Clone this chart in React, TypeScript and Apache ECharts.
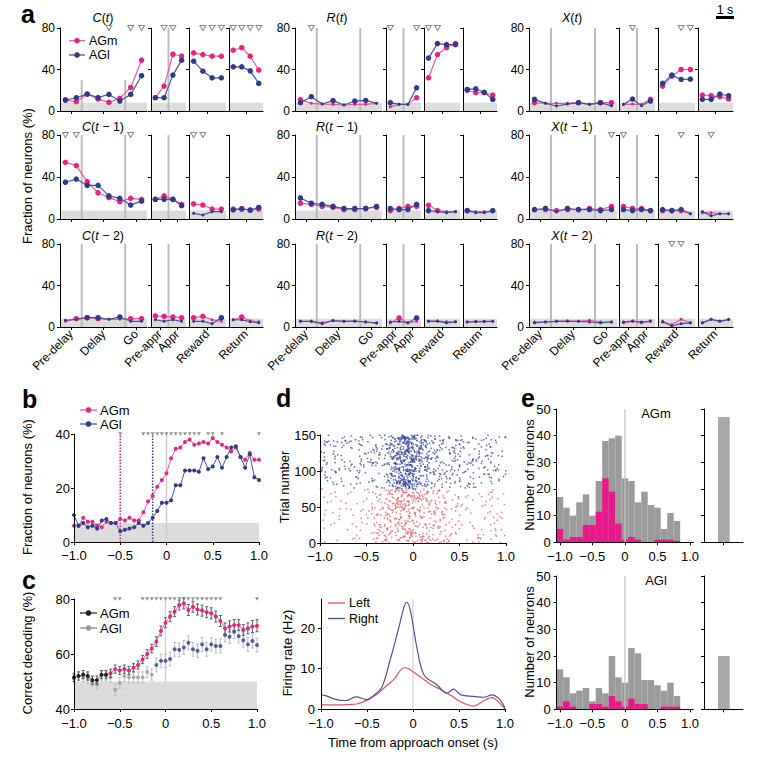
import React, { useEffect, useRef } from "react";
import * as echarts from "echarts";

const FONT = "'Liberation Sans', Arial, Helvetica, sans-serif";
const PINK = "#E6247F";
const PINK_LINE = "#EA5B9C";
const NAVY = "#2E3A8A";
const NAVY_LINE = "#4A5599";
const BAND = "#DCDCDC";
const DIVIDER = "#BDBDBD";

// ---------------- Panel a ----------------
const aSectionSizes = [8, 4, 4, 4];
const aSectionLabels = [["Pre-delay", "Delay", "Go"], ["Pre-appr", "Appr"], ["Reward"], ["Return"]];
const aSectionLabelPos = [[0.5, 3.5, 6.5], [0.5, 2.5], [1.5], [1.5]];
const aSectionDividers = [[1.5, 5.5], [1.5], [], []];
const aVariables = ["C", "R", "X"];
const aLags = ["", " \u2212 1", " \u2212 2"];
const aChance = 8;

const C0_AGm = [[10.6, 9, 16.3, 11.5, 8.3, 12.2, 22.7, 49], [12.8, 24, 54.7, 53], [56, 54.4, 52.8, 52.8], [58.6, 61, 52.8, 39.4]];
const C0_AGl = [[10.6, 12.8, 16.3, 13, 16, 9.6, 16, 34], [12.8, 12.8, 34.6, 49], [48, 38.4, 32, 32], [42.6, 42.6, 38.7, 26.6]];
const C0_sig = [[4, 6, 7], [1, 2], [1, 2, 3], [0, 1, 2, 3]];
const C1_AGm = [[54, 50.8, 35.6, 25, 20.3, 16.5, 19.7, 18.7], [18.7, 22, 18.7, 14], [14.3, 13.3, 9.5, 9.5], [9.5, 10, 8.3, 9.5]];
const C1_AGl = [[35, 38, 32, 32, 22, 19.7, 13.3, 17], [18.7, 18.7, 18.7, 12.7], [5.4, 3.8, 7, 7], [8.6, 9.5, 8.6, 11]];
const C1_sig = [[0, 1, 6], [], [0, 1], []];
const C2_AGm = [[5.5, 8, 9, 8, 7.4, 7.4, 8, 8], [10.6, 10.3, 9.7, 9], [9, 10.3, 7, 5.5], [7, 9.7, 6, 5]];
const C2_AGl = [[6.5, 7.4, 9, 9, 7.4, 9.7, 5.5, 5.5], [7, 5.5, 7, 5.5], [5.5, 5.5, 3.2, 9], [7, 7, 5, 4]];
const C2_sig = [[], [], [], []];

const R0_AGm = [[11, 7.4, 6.7, 6.4, 5.8, 6.4, 6.4, 7.4], [4, 6.4, 6.4, 12.8], [32, 54.4, 61, 65], [20, 17.6, 17.6, 15.4]];
const R0_AGl = [[8, 13.8, 6.7, 10, 5.8, 9.6, 10.2, 7.4], [8, 6.4, 6.4, 22.4], [51, 65, 64, 64], [20.8, 21.4, 18, 11.2]];
const R0_sig = [[1], [0, 3], [0, 1], []];
const R1_AGm = [[15, 14, 12, 11, 9, 9, 10, 11], [8, 10, 12, 12], [13, 8, 7, 7], [8, 7, 7, 7]];
const R1_AGl = [[20, 15, 14, 12, 10, 10, 10, 12], [10, 9, 9, 14], [8, 7, 6, 7], [8, 6, 6, 8]];
const R1_sig = [[], [], [], []];
const R2_AGm = [[5.5, 5.5, 4, 6.5, 5.5, 5.5, 4.8, 3.8], [4, 8.7, 4, 5.5], [5.5, 6, 5, 5], [4.8, 5.5, 5.5, 5.5]];
const R2_AGl = [[5.5, 5.5, 3.2, 6, 5.5, 5.8, 4.8, 3.8], [4.8, 5.5, 4, 8.7], [5.5, 5.5, 4, 5], [4.8, 5, 5.2, 5.5]];
const R2_sig = [[], [], [], []];

const X0_AGm = [[8, 7.4, 7.4, 7.4, 8, 6.4, 8, 8], [6.4, 6.7, 6.4, 11.2], [24, 33.6, 40, 40], [15.4, 14.7, 13.8, 11.5]];
const X0_AGl = [[11.2, 7.4, 4.8, 6.7, 8, 6.4, 8, 5], [6.4, 11.5, 5, 9.6], [26.6, 34.6, 30.4, 30.7], [11.2, 11.2, 16.3, 14.7]];
const X0_sig = [[], [1], [2, 3], []];
const X1_AGm = [[9, 9, 8, 9, 9, 10, 9, 12], [12, 10, 10, 8], [8, 8, 8, 5], [6, 6, 5, 5]];
const X1_AGl = [[9, 10, 7, 10, 9, 9, 8, 9], [9, 8, 9, 8], [9, 8, 9, 5], [7, 3, 5, 5]];
const X1_sig = [[7], [0], [2], [1]];
const X2_AGm = [[4.8, 4.8, 5.5, 6, 5.5, 6.5, 4.8, 4.8], [4, 5.5, 4, 5.5], [5.5, 2.2, 7.4, 4], [4, 7.4, 5.5, 7]];
const X2_AGl = [[4, 4.8, 5.5, 5.5, 5.5, 4.8, 4, 4.8], [4.8, 5.8, 4.8, 5.8], [4.8, 1, 3.2, 4], [4, 7.4, 5.5, 7.4]];
const X2_sig = [[], [], [1, 2], []];

// ---------------- Panel b ----------------
const bTime = [-1, -0.95, -0.9, -0.85, -0.8, -0.75, -0.7, -0.65, -0.6, -0.55, -0.5, -0.45, -0.4, -0.35, -0.3, -0.25, -0.2, -0.15, -0.1, -0.05, 0, 0.05, 0.1, 0.15, 0.2, 0.25, 0.3, 0.35, 0.4, 0.45, 0.5, 0.55, 0.6, 0.65, 0.7, 0.75, 0.8, 0.85, 0.9, 0.95, 1];
const bAGm = [6, 6, 9, 7.5, 7.5, 6, 5.5, 7.5, 7, 7, 8.5, 8, 9, 8, 8, 11, 15, 17, 20.5, 23, 25.5, 31, 34.5, 35, 37, 38, 36, 36.5, 37, 36.5, 38.5, 37, 36, 35, 33.5, 35, 31.5, 30.5, 33, 30.5, 30.5];
const bAGl = [10, 6, 7, 5.5, 6, 5, 8, 8.5, 7, 7, 4, 4.5, 5, 5.5, 7, 6, 7, 9, 11.5, 14.5, 14.5, 15.5, 21, 21, 26.5, 26.5, 26.5, 26, 31, 27, 28, 31.5, 27.5, 31.5, 35, 35.5, 31.5, 27.5, 32.5, 24, 23];
const bSig = [-0.5, -0.25, -0.2, -0.15, -0.1, -0.05, 0, 0.05, 0.1, 0.15, 0.2, 0.25, 0.3, 0.35, 0.45, 0.5, 0.6, 1.0];
const bOnsetAGm = -0.5;
const bOnsetAGl = -0.15;
const bChance = 7;

// ---------------- Panel c ----------------
const cAGm = [51.5, 52, 52.5, 52, 50.5, 50.5, 52.5, 52.5, 53, 54.5, 54, 54.5, 54, 55, 56, 58, 60, 62, 64.5, 68.4, 71.4, 73.6, 75.4, 77.8, 78.4, 76, 77.2, 76.2, 75.8, 75.2, 74.8, 73.6, 72, 69.3, 70, 70.5, 70.5, 68.7, 69.3, 70, 70.3];
const cAGl = [51, 52, 51.5, 51, 50, 49, 52, 52, 51.5, 47, 49.5, 52, 51.5, 51.5, 51.5, 51.5, 53.5, 52.5, 56, 57.5, 57.5, 58.2, 61.7, 61.5, 62.4, 64.1, 61.7, 61.2, 63.5, 61.7, 63.5, 62.9, 62.9, 66.9, 66.3, 68.1, 66.5, 65, 63.5, 64.7, 63.3];
const cAGmErr = [1.5, 1.5, 1.5, 1.5, 1.5, 1.5, 1.5, 1.5, 1.5, 1.5, 1.5, 1.5, 1.5, 1.5, 1.5, 1.5, 1.6, 1.6, 1.8, 1.8, 1.8, 1.8, 1.8, 1.8, 2, 2, 2, 2, 2, 2, 2, 2, 2, 2, 2, 2, 2, 2, 2, 2.2, 2.2];
const cAGlErr = [1.5, 1.5, 1.5, 1.8, 1.8, 1.8, 1.8, 1.8, 1.8, 2, 2, 2, 2, 2, 2, 2, 2, 2, 2.5, 2.5, 2.5, 2.5, 2.5, 2.5, 2.5, 2.5, 2.5, 2.5, 2.5, 2.5, 2.5, 2.5, 2.5, 2.5, 2.5, 2.5, 2.5, 2.5, 2.5, 2.5, 2.5];
const cSig = [-0.55, -0.5, -0.25, -0.2, -0.15, -0.1, -0.05, 0, 0.05, 0.1, 0.15, 0.2, 0.25, 0.3, 0.35, 0.4, 0.45, 0.5, 0.55, 0.6, 1.0];
const cAGmSigFrom = -0.6;
const cAGlSigFrom = -0.1;
const cChance = 50;

// ---------------- Panel d ----------------
const dBinStart = [-1, -0.9, -0.8, -0.7, -0.6, -0.5, -0.4, -0.3, -0.2, -0.1, 0, 0.1, 0.2, 0.3, 0.4, 0.5, 0.6, 0.7, 0.8, 0.9];
const dRightRate = [3.5, 2.7, 2.3, 2.2, 3, 2.7, 3.5, 9, 19, 25, 15, 8, 5.5, 4, 4, 3.5, 3, 3, 3.2, 2];
const dLeftRate = [1, 1, 1, 1.1, 1.3, 2.5, 4.5, 7, 9.5, 10, 8, 6.5, 5, 3.8, 2.5, 1.2, 0.9, 1.8, 2.4, 1.5];
const dLeftTrials = [0, 75];
const dRightTrials = [75, 152];
const dLeftPSTH = [[-1, 1], [-0.9, 1], [-0.8, 1], [-0.7, 1.1], [-0.6, 1.3], [-0.5, 2.2], [-0.4, 3.5], [-0.3, 5.5], [-0.2, 7.5], [-0.1, 10.2], [-0.05, 10], [0, 9.2], [0.1, 7.6], [0.2, 6], [0.3, 4.8], [0.4, 3.5], [0.5, 2], [0.6, 1], [0.66, 0.7], [0.72, 1.3], [0.8, 2.4], [0.85, 2.8], [0.92, 2], [1, 0]];
const dRightPSTH = [[-1, 3.5], [-0.95, 3.3], [-0.84, 2.4], [-0.73, 2.1], [-0.62, 3], [-0.5, 2.3], [-0.43, 3.3], [-0.34, 5.3], [-0.25, 12], [-0.16, 19.6], [-0.1, 25], [-0.07, 26.4], [-0.03, 24.5], [0.04, 15.5], [0.12, 8.4], [0.26, 6], [0.37, 3.9], [0.44, 4.9], [0.52, 3.5], [0.66, 3.1], [0.77, 2.9], [0.86, 3.5], [0.95, 2.2], [1, 0.2]];

// ---------------- Panel e ----------------
const eBinCenter = [-1, -0.9, -0.8, -0.7, -0.6, -0.5, -0.4, -0.3, -0.2, -0.1, 0, 0.1, 0.2, 0.3, 0.4, 0.5, 0.6, 0.7, 0.8];
const eAGmAll = [17, 13, 10, 15, 18, 10, 23, 38, 39, 40, 24, 23, 15, 19, 14, 13, 5, 11, 8];
const eAGmSig = [5, 1, 2, 2, 6.5, 6.5, 11.5, 24, 19, 7, 1, 2, 1, 0, 0, 1, 1, 1, 0.5];
const eAGlAll = [15, 12, 6, 7, 8, 3, 8, 6, 20, 12, 10, 23, 21, 11, 11, 9, 7, 10, 5];
const eAGlSig = [1, 3, 1, 0, 0, 2, 2, 1, 5, 3, 1, 4, 2, 2, 0, 0, 1, 1, 1];
const eAGmOther = [47];
const eAGlOther = [20];

// ---------------- helpers ----------------
function fmtSigned(v: number) {
  if (Math.abs(v) < 1e-9) return "0";
  return (v < 0 ? "\u2212" : "") + Math.abs(v).toFixed(1);
}

function valAxis(gi: number, o: any) {
  const tick: any = { show: true, length: 3, inside: false, lineStyle: { color: "#000", width: 1 } };
  if (o.ticks) tick.customValues = o.ticks;
  const label: any = {
    show: o.showLabels !== false,
    color: "#000",
    fontFamily: FONT,
    fontSize: o.fontSize || 13,
    margin: o.margin ?? 4,
    rotate: o.rotate || 0,
  };
  if (o.labels) label.customValues = o.labels;
  if (o.formatter) label.formatter = o.formatter;
  const ax: any = {
    type: "value",
    gridIndex: gi,
    min: o.min,
    max: o.max,
    z: 10,
    axisLine: { show: true, onZero: false, lineStyle: { color: "#000", width: 1 } },
    axisTick: tick,
    axisLabel: label,
    splitLine: { show: false },
  };
  if (o.interval != null) ax.interval = o.interval;
  return ax;
}

function vline(gi: number, x: number, y0: number, y1: number, color: string, width: number, type = "solid", z = 1) {
  return {
    type: "line", xAxisIndex: gi, yAxisIndex: gi, data: [[x, y0], [x, y1]], symbol: "none", silent: true, z,
    lineStyle: { color, width, type },
  };
}

function band(gi: number, xmin: number, xmax: number, y0: number, y1: number, color: string) {
  return {
    type: "custom", xAxisIndex: gi, yAxisIndex: gi, silent: true, z: 0,
    data: [[xmin, xmax, y0, y1]],
    renderItem: (_p: any, api: any) => {
      const p0 = api.coord([api.value(0), api.value(3)]);
      const p1 = api.coord([api.value(1), api.value(2)]);
      return { type: "rect", shape: { x: p0[0], y: p0[1], width: p1[0] - p0[0], height: p1[1] - p0[1] }, style: { fill: color } };
    },
  };
}

function bars(gi: number, data: number[][], color: string, z = 2) {
  return {
    type: "custom", xAxisIndex: gi, yAxisIndex: gi, silent: true, z,
    data,
    renderItem: (_p: any, api: any) => {
      const h = api.value(2);
      if (!h) return null;
      const p0 = api.coord([api.value(0), h]);
      const p1 = api.coord([api.value(1), 0]);
      return { type: "rect", shape: { x: p0[0], y: p0[1], width: p1[0] - p0[0], height: p1[1] - p0[1] }, style: { fill: color } };
    },
  };
}

function errBars(gi: number, data: number[][], color: string, z = 2) {
  return {
    type: "custom", xAxisIndex: gi, yAxisIndex: gi, silent: true, z,
    data,
    renderItem: (_p: any, api: any) => {
      const a = api.coord([api.value(0), api.value(1)]);
      const b = api.coord([api.value(0), api.value(2)]);
      const st = { stroke: color, lineWidth: 1 };
      return {
        type: "group",
        children: [
          { type: "line", shape: { x1: a[0], y1: a[1], x2: b[0], y2: b[1] }, style: st },
          { type: "line", shape: { x1: a[0] - 1.5, y1: a[1], x2: a[0] + 1.5, y2: a[1] }, style: st },
          { type: "line", shape: { x1: b[0] - 1.5, y1: b[1], x2: b[0] + 1.5, y2: b[1] }, style: st },
        ],
      };
    },
  };
}

function txt(x: number, y: number, text: string, o: any = {}) {
  return {
    type: "text", x, y, silent: true, z: 30, rotation: o.rotation || 0,
    style: {
      text, fill: o.fill || "#000", fontFamily: FONT, fontSize: o.size || 13,
      fontWeight: o.weight || "normal", fontStyle: o.style || "normal",
      align: o.align || "left", verticalAlign: o.valign || "middle",
      rich: o.rich,
    },
  };
}

function legendItem(x1: number, x2: number, y: number, lineColor: string, dotColor: string | null, label: string, textX: number, size: number) {
  const els: any[] = [
    { type: "line", z: 30, silent: true, shape: { x1, y1: y, x2, y2: y }, style: { stroke: lineColor, lineWidth: 1.3 } },
  ];
  if (dotColor) els.push({ type: "circle", z: 31, silent: true, shape: { cx: (x1 + x2) / 2, cy: y, r: 2.8 }, style: { fill: dotColor } });
  els.push(txt(textX, y, label, { size }));
  return els;
}

// deterministic scatter of spike positions inside each (time bin x trial block) cell;
// the number of spikes per cell follows the firing rates read from the raster.
function jitter(k: number) {
  const s = Math.sin(k * 12.9898 + 78.233) * 43758.5453;
  return s - Math.floor(s);
}
function rasterPoints(rates: number[], trials: number[], seed: number) {
  const pts: number[][] = [];
  const nTr = trials[1] - trials[0];
  let n = seed;
  rates.forEach((r, b) => {
    const count = Math.round(r * 0.1 * nTr);
    for (let k = 0; k < count; k++) {
      n++;
      const u = jitter(n * 2 + 1);
      const v = jitter(n * 2 + 2);
      pts.push([dBinStart[b] + u * 0.1, trials[0] + Math.floor(v * nTr) + 0.5]);
    }
  });
  return pts;
}

function buildOption() {
  const grid: any[] = [];
  const xAxis: any[] = [];
  const yAxis: any[] = [];
  const series: any[] = [];
  const graphic: any[] = [];

  const addGrid = (left: number, top: number, width: number, height: number, xo: any, yo: any) => {
    const gi = grid.length;
    grid.push({ left, top, width, height, containLabel: false });
    xAxis.push(valAxis(gi, xo));
    yAxis.push(valAxis(gi, yo));
    return gi;
  };

  // ---------- Panel a ----------
  const aRowsY = [[28, 111], [135, 219], [244, 327]];
  const aCols = [
    [[60, 147], [151, 186], [189, 226], [229, 263]],
    [[295, 382], [386, 421], [424, 460], [463, 497]],
    [[529, 617], [619, 655], [658, 695], [698, 733]],
  ];
  const aData: any[][] = [
    [[C0_AGm, C0_AGl, C0_sig], [C1_AGm, C1_AGl, C1_sig], [C2_AGm, C2_AGl, C2_sig]],
    [[R0_AGm, R0_AGl, R0_sig], [R1_AGm, R1_AGl, R1_sig], [R2_AGm, R2_AGl, R2_sig]],
    [[X0_AGm, X0_AGl, X0_sig], [X1_AGm, X1_AGl, X1_sig], [X2_AGm, X2_AGl, X2_sig]],
  ];
  const symSize = (v: any) => (v[1] >= 7.5 ? 5.5 : 3);
  for (let g = 0; g < 3; g++) {
    for (let r = 0; r < 3; r++) {
      for (let s = 0; s < 4; s++) {
        const [x0, x1] = aCols[g][s];
        const [y0, y1] = aRowsY[r];
        const n = aSectionSizes[s];
        const names = aSectionLabels[s];
        const pos = aSectionLabelPos[s];
        const gi = addGrid(x0, y0, x1 - x0, y1 - y0,
          {
            min: -0.5, max: n - 0.5, ticks: pos, labels: r === 2 ? pos : undefined, showLabels: r === 2,
            rotate: 45, fontSize: 12, margin: 5,
            formatter: (v: number) => {
              let best = 0;
              pos.forEach((p, i) => { if (Math.abs(p - v) < Math.abs(pos[best] - v)) best = i; });
              return names[best];
            },
          },
          { min: 0, max: 80, interval: 40, showLabels: s === 0, fontSize: 12, margin: 5 });
        series.push(band(gi, -0.5, n - 0.5, 0, aChance, BAND));
        aSectionDividers[s].forEach((xd) => {
          const top = g === 0 && r === 0 && s === 0 ? 30 : 80;
          series.push(vline(gi, xd, 0, top, DIVIDER, 2));
        });
        const [m, l, sig] = aData[g][r];
        series.push({
          type: "line", xAxisIndex: gi, yAxisIndex: gi, silent: true, z: 3, clip: false,
          data: m[s].map((v: number, i: number) => [i, v]), symbol: "circle", symbolSize: symSize,
          itemStyle: { color: PINK }, lineStyle: { color: PINK_LINE, width: 1.2 },
        });
        series.push({
          type: "line", xAxisIndex: gi, yAxisIndex: gi, silent: true, z: 4, clip: false,
          data: l[s].map((v: number, i: number) => [i, v]), symbol: "circle", symbolSize: symSize,
          itemStyle: { color: NAVY }, lineStyle: { color: NAVY_LINE, width: 1.2 },
        });
        if (sig[s].length) {
          series.push({
            type: "scatter", xAxisIndex: gi, yAxisIndex: gi, silent: true, z: 5, clip: false,
            data: sig[s].map((i: number) => [i, 80]), symbol: "triangle", symbolRotate: 180, symbolSize: [6, 5],
            itemStyle: { color: "#fff", borderColor: "#6F6F6F", borderWidth: 1 },
          });
        }
      }
    }
  }
  const titleX = [103, 337, 572];
  const titleY = [18, 127, 236];
  const rich = { i: { fontStyle: "italic", fontFamily: FONT, fontSize: 12.5 } };
  for (let g = 0; g < 3; g++) {
    for (let r = 0; r < 3; r++) {
      graphic.push(txt(titleX[g], titleY[r], `{i|${aVariables[g]}}({i|t}${aLags[r]})`, { align: "center", size: 12.5, rich }));
    }
  }
  graphic.push(...legendItem(69, 85, 40.7, PINK_LINE, PINK, "AGm", 89, 12.5));
  graphic.push(...legendItem(69, 85, 55, NAVY_LINE, NAVY, "AGl", 89, 12.5));
  graphic.push(txt(27, 176, "Fraction of neurons (%)", { align: "center", rotation: Math.PI / 2 }));
  graphic.push(txt(725, 10, "1 s", { align: "center", size: 12.5 }));
  graphic.push({ type: "rect", z: 30, silent: true, shape: { x: 716, y: 16, width: 18, height: 3 }, style: { fill: "#000" } });

  // ---------- Panel b ----------
  {
    const gi = addGrid(74, 434, 185, 108,
      { min: -1, max: 1, interval: 0.5, formatter: fmtSigned, margin: 7 },
      { min: 0, max: 40, interval: 20 });
    series.push(band(gi, -1, 1, 0, bChance, BAND));
    series.push(vline(gi, 0, 0, 40, "#CCCCCC", 1.5));
    series.push(vline(gi, bOnsetAGm, 0, 40, PINK, 1.5, "dotted", 2));
    series.push(vline(gi, bOnsetAGl, 0, 40, NAVY, 1.5, "dotted", 2));
    series.push({
      type: "line", xAxisIndex: gi, yAxisIndex: gi, silent: true, z: 3,
      data: bAGm.map((v, i) => [bTime[i], v]), symbol: "circle", symbolSize: 4,
      itemStyle: { color: PINK }, lineStyle: { color: PINK_LINE, width: 1 },
    });
    series.push({
      type: "line", xAxisIndex: gi, yAxisIndex: gi, silent: true, z: 4,
      data: bAGl.map((v, i) => [bTime[i], v]), symbol: "circle", symbolSize: 4,
      itemStyle: { color: NAVY }, lineStyle: { color: NAVY_LINE, width: 1 },
    });
    series.push({
      type: "scatter", xAxisIndex: gi, yAxisIndex: gi, silent: true, z: 5, clip: false,
      data: bSig.map((t) => [t, 40]), symbol: "triangle", symbolRotate: 180, symbolSize: [4, 3.5],
      itemStyle: { color: "#777" },
    });
    graphic.push(...legendItem(80, 97, 410, PINK_LINE, PINK, "AGm", 100, 13));
    graphic.push(...legendItem(80, 97, 424, NAVY_LINE, NAVY, "AGl", 100, 13));
    graphic.push(txt(27, 487, "Fraction of neurons (%)", { align: "center", rotation: Math.PI / 2 }));
  }

  // ---------- Panel c ----------
  {
    const gi = addGrid(74, 599, 183, 110,
      { min: -1, max: 1, interval: 0.5, formatter: fmtSigned, margin: 8 },
      { min: 40, max: 80, interval: 20 });
    series.push(band(gi, -1, 1, 40, cChance, BAND));
    series.push(vline(gi, 0, 40, 80, "#D5D5D5", 1.5));
    series.push(errBars(gi, cAGl.map((v, i) => [bTime[i], v - cAGlErr[i], v + cAGlErr[i]]), "#BDBDBD", 2));
    series.push({
      type: "scatter", xAxisIndex: gi, yAxisIndex: gi, silent: true, z: 3,
      data: cAGl.map((v, i) => ({ value: [bTime[i], v], itemStyle: { color: bTime[i] >= cAGlSigFrom - 1e-9 ? NAVY : "#9A9A9A" } })),
      symbol: "circle", symbolSize: 4,
    });
    series.push(errBars(gi, cAGm.map((v, i) => [bTime[i], v - cAGmErr[i], v + cAGmErr[i]]), "#4E6666", 4));
    series.push({
      type: "line", xAxisIndex: gi, yAxisIndex: gi, silent: true, z: 5,
      data: cAGm.map((v, i) => ({ value: [bTime[i], v], itemStyle: { color: bTime[i] >= cAGmSigFrom - 1e-9 ? PINK : "#222" } })),
      symbol: "circle", symbolSize: 4, lineStyle: { color: PINK_LINE, width: 1 },
    });
    series.push({
      type: "scatter", xAxisIndex: gi, yAxisIndex: gi, silent: true, z: 5, clip: false,
      data: cSig.map((t) => [t, 80]), symbol: "triangle", symbolRotate: 180, symbolSize: [4, 3.5],
      itemStyle: { color: "#777" },
    });
    graphic.push(...legendItem(80, 97, 613, "#333", "#222", "AGm", 100, 13));
    graphic.push(...legendItem(80, 97, 628, "#888", "#9A9A9A", "AGl", 100, 13));
    graphic.push(txt(27, 653, "Correct decoding (%)", { align: "center", rotation: Math.PI / 2 }));
  }

  // ---------- Panel d ----------
  {
    const gi = addGrid(320, 435, 186, 108,
      { min: -1, max: 1, interval: 0.5, formatter: fmtSigned, margin: 7 },
      { min: 0, max: 150, interval: 50 });
    series.push({
      type: "scatter", xAxisIndex: gi, yAxisIndex: gi, silent: true, z: 3,
      data: rasterPoints(dLeftRate, dLeftTrials, 0), symbol: "rect", symbolSize: 1.5,
      itemStyle: { color: "#E2606C", opacity: 0.8 },
    });
    series.push({
      type: "scatter", xAxisIndex: gi, yAxisIndex: gi, silent: true, z: 3,
      data: rasterPoints(dRightRate, dRightTrials, 5000), symbol: "rect", symbolSize: 1.5,
      itemStyle: { color: "#3B4899", opacity: 0.8 },
    });
    graphic.push(txt(284, 487, "Trial number", { align: "center", rotation: Math.PI / 2 }));

    const gj = addGrid(321, 599, 184, 110,
      { min: -1, max: 1, interval: 0.5, formatter: fmtSigned, margin: 8 },
      { min: 0, max: 27.2, ticks: [0, 10, 20], labels: [0, 10, 20], margin: 6 });
    series.push(vline(gj, 0, 0, 27.2, "#C9C9D6", 1));
    series.push({
      type: "line", xAxisIndex: gj, yAxisIndex: gj, silent: true, z: 3, smooth: 0.35,
      data: dLeftPSTH, symbol: "none", lineStyle: { color: "#D9545E", width: 1.2 },
    });
    series.push({
      type: "line", xAxisIndex: gj, yAxisIndex: gj, silent: true, z: 3, smooth: 0.35,
      data: dRightPSTH, symbol: "none", lineStyle: { color: "#4E5298", width: 1.2 },
    });
    graphic.push(...legendItem(328, 345, 603, "#D9545E", null, "Left", 349, 12.5));
    graphic.push(...legendItem(328, 345, 618.5, "#4E5298", null, "Right", 349, 12.5));
    graphic.push(txt(287, 653, "Firing rate (Hz)", { align: "center", rotation: Math.PI / 2 }));
    graphic.push(txt(413, 742, "Time from approach onset (s)", { align: "center" }));
  }

  // ---------- Panel e ----------
  const eRows = [
    { top: 409, all: eAGmAll, sig: eAGmSig, other: eAGmOther, label: "AGm" },
    { top: 576, all: eAGlAll, sig: eAGlSig, other: eAGlOther, label: "AGl" },
  ];
  eRows.forEach((row) => {
    const gi = addGrid(556.7, row.top, 136.5, 133.3,
      { min: -1.05, max: 1.05, ticks: [-1, -0.5, 0, 0.5, 1], labels: [-1, -0.5, 0, 0.5, 1], formatter: fmtSigned, margin: 8 },
      { min: 0, max: 50, interval: 10, margin: 6 });
    series.push(bars(gi, row.all.map((v, i) => [eBinCenter[i] - 0.05, eBinCenter[i] + 0.05, v]), "#9B9B9B", 2));
    series.push(bars(gi, row.sig.map((v, i) => [eBinCenter[i] - 0.05, eBinCenter[i] + 0.05, v]), "#E8198B", 3));
    series.push(vline(gi, 0, 0, 50, "#C4C4C4", 1.2, "solid", 4));
    graphic.push(txt(656, row.top + 4, row.label, { align: "center" }));
    graphic.push(txt(529, row.top + 66, "Number of neurons", { align: "center", rotation: Math.PI / 2 }));

    const gs = addGrid(704, row.top, 39, 133.3,
      { min: 0, max: 1, ticks: [0.5], showLabels: false },
      { min: 0, max: 50, interval: 10, showLabels: false });
    series.push(bars(gs, row.other.map((v) => [0.36, 0.66, v]), "#A8A8A8", 2));
  });

  // panel letters
  graphic.push(txt(21, 14, "a", { size: 25, weight: "bold" }));
  graphic.push(txt(22, 399, "b", { size: 25, weight: "bold" }));
  graphic.push(txt(22, 580, "c", { size: 25, weight: "bold" }));
  graphic.push(txt(276, 398, "d", { size: 25, weight: "bold" }));
  graphic.push(txt(521, 398, "e", { size: 25, weight: "bold" }));

  return {
    animation: false,
    backgroundColor: "#fff",
    textStyle: { fontFamily: FONT },
    grid, xAxis, yAxis, series, graphic,
  };
}

export default function App() {
  const ref = useRef<HTMLDivElement>(null);
  useEffect(() => {
    const chart = echarts.init(ref.current!, null, { renderer: "svg" });
    chart.setOption(buildOption() as any);
    return () => chart.dispose();
  }, []);
  return <div ref={ref} style={{ position: "fixed", left: 0, top: 0, width: 758, height: 760, background: "#fff" }} />;
}
